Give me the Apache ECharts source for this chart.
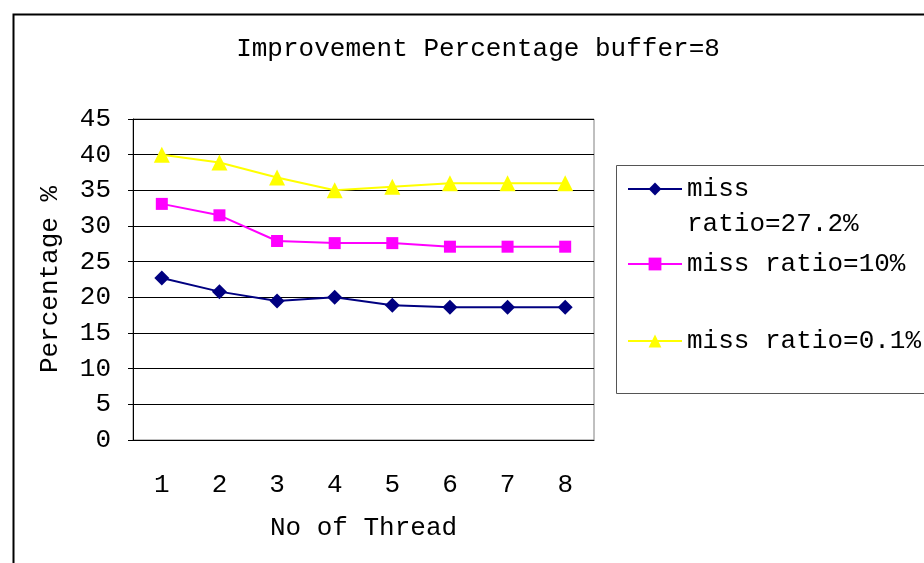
<!DOCTYPE html>
<html><head><meta charset="utf-8">
<script src="https://cdn.jsdelivr.net/npm/echarts@6/dist/echarts.min.js"></script>
<style>html,body{margin:0;padding:0;background:#fff}#c{width:924px;height:563px}</style>
</head><body><div id="c"></div>
<script>
const categories = ['1','2','3','4','5','6','7','8'];
const seriesNames = ['miss ratio=27.2%','miss ratio=10%','miss ratio=0.1%'];
const navyValues = [22.7, 20.8, 19.5, 20.0, 18.9, 18.6, 18.6, 18.6];
const magentaValues = [33.1, 31.5, 27.9, 27.6, 27.6, 27.1, 27.1, 27.1];
const yellowValues = [40.0, 38.9, 36.8, 35.0, 35.5, 36.0, 36.0, 36.0];
const yTicks = {min: 0, max: 45, interval: 5};

const FONT = 'Liberation Mono';
const FS = 26;
const chart = echarts.init(document.getElementById('c'), null, {renderer: 'canvas'});
const legendCommon = {
  orient: 'vertical', left: 627, padding: 0, itemWidth: 54, itemHeight: 16,
  textStyle: {fontFamily: FONT, fontSize: FS, color: '#000'},
  lineStyle: {width: 2},
  selectedMode: false
};
chart.setOption({
  animation: false,
  backgroundColor: '#fff',
  title: {
    text: 'Improvement Percentage buffer=8', left: 473, top: 31, textAlign: 'center',
    textStyle: {fontFamily: FONT, fontSize: FS, fontWeight: 'normal', color: '#000'}
  },
  graphic: [
    {type: 'rect', left: 11, top: 12, shape: {width: 1000, height: 1000}, style: {fill: 'none', stroke: '#000', lineWidth: 2}, z: -1},
    {type: 'rect', left: 616, top: 165, shape: {width: 400, height: 228}, style: {fill: '#fff', stroke: '#555', lineWidth: 1}, z: -1},
    {type: 'text', left: 687, top: 211, style: {text: 'ratio=27.2%', fontFamily: FONT, fontSize: FS, fill: '#000'}}
  ],
  legend: [
    Object.assign({}, legendCommon, {top: 176, data: [seriesNames[0]], formatter: () => 'miss'}),
    Object.assign({}, legendCommon, {top: 251, data: [seriesNames[1]]}),
    Object.assign({}, legendCommon, {top: 328, data: [seriesNames[2]]})
  ],
  grid: {left: 133, right: 330, top: 119, bottom: 123, show: true, borderColor: '#808080', borderWidth: 1, backgroundColor: '#fff'},
  xAxis: {
    type: 'category', data: categories, boundaryGap: true,
    name: 'No of Thread', nameLocation: 'middle', nameGap: 75,
    nameTextStyle: {fontFamily: FONT, fontSize: FS, color: '#000', verticalAlign: 'top'},
    axisLine: {lineStyle: {color: '#000', width: 1}},
    axisTick: {inside: true, length: 9, lineStyle: {color: '#000'}},
    axisLabel: {fontFamily: FONT, fontSize: FS, color: '#000', margin: 32},
    splitLine: {show: false}
  },
  yAxis: {
    type: 'value', min: yTicks.min, max: yTicks.max, interval: yTicks.interval,
    name: 'Percentage %', nameLocation: 'middle', nameGap: 70, nameRotate: 90,
    nameTextStyle: {fontFamily: FONT, fontSize: FS, color: '#000'},
    axisLine: {show: true, lineStyle: {color: '#000', width: 1}},
    axisTick: {show: true, length: 5, lineStyle: {color: '#000'}},
    axisLabel: {fontFamily: FONT, fontSize: FS, color: '#000', margin: 22},
    splitLine: {show: true, lineStyle: {color: '#000', width: 1}}
  },
  series: [
    {name: seriesNames[0], type: 'line', data: navyValues, symbol: 'diamond', symbolSize: 15,
     itemStyle: {color: '#000080'}, lineStyle: {color: '#000080', width: 2}},
    {name: seriesNames[1], type: 'line', data: magentaValues, symbol: 'rect', symbolSize: 12,
     itemStyle: {color: '#FF00FF'}, lineStyle: {color: '#FF00FF', width: 2}},
    {name: seriesNames[2], type: 'line', data: yellowValues, symbol: 'triangle', symbolSize: 16,
     itemStyle: {color: '#FFFF00'}, lineStyle: {color: '#FFFF00', width: 2}}
  ]
});
</script></body></html>
